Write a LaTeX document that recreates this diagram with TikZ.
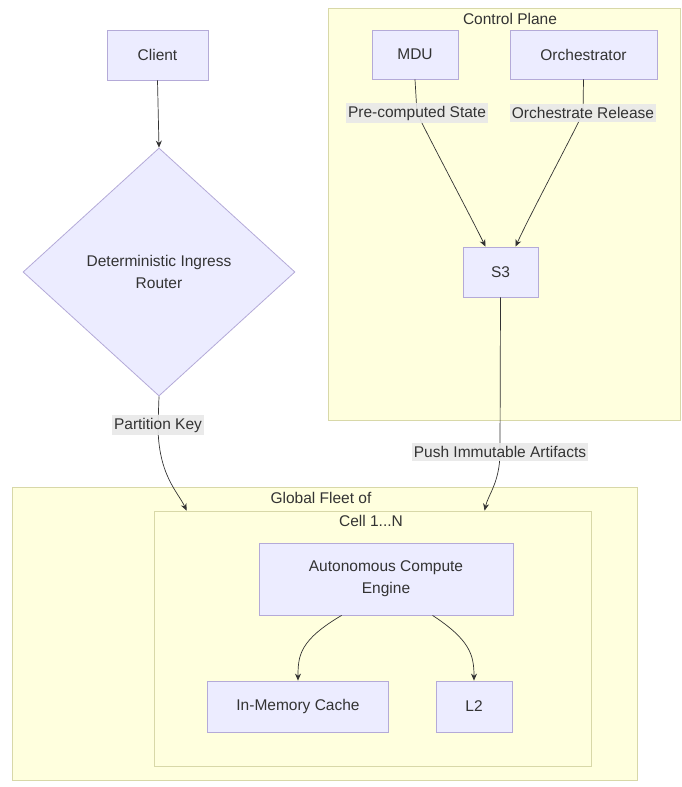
\documentclass[tikz,border=0pt]{standalone}
\usepackage{fontspec}
\setmainfont{Liberation Sans}
\usetikzlibrary{shapes.geometric,arrows.meta,calc}
\definecolor{nodefill}{HTML}{ECECFF}
\definecolor{nodeline}{HTML}{B4AAD8}
\definecolor{clfill}{HTML}{FFFFDE}
\definecolor{clline}{HTML}{D8D8A8}
\definecolor{edgec}{HTML}{333333}
\definecolor{txt}{HTML}{333333}
\definecolor{labbg}{HTML}{E8E8E8}
\tikzset{
  box/.style={draw=nodeline, fill=nodefill, line width=0.8pt, text=txt, inner sep=0pt, align=center, font=\fontsize{15.5}{22}\selectfont},
  cluster/.style={draw=clline, fill=clfill, line width=0.8pt, inner sep=0pt},
  ctitle/.style={text=txt, font=\fontsize{15.5}{18}\selectfont},
  elabel/.style={fill=labbg, fill opacity=0.9, text opacity=1, text=txt, inner xsep=2pt, inner ysep=3pt, font=\fontsize{15.5}{18}\selectfont},
  conn/.style={draw=edgec, line width=0.7pt, -{Stealth[length=7pt,width=6pt]}},
  plain/.style={draw=edgec, line width=0.7pt}
}
\begin{document}
\begin{tikzpicture}[x=1pt,y=-1pt]
\useasboundingbox (0,0) rectangle (681,787);
% clusters
\node[cluster, minimum width=352, minimum height=412] (cp) at (504,214) {};
\node[ctitle] (cpt) at (510,19) {Control Plane};
\node[cluster, minimum width=625, minimum height=293] (gf) at (324.5,633.5) {};
\node[ctitle] (gft) at (321,498) {Global Fleet of};
\node[cluster, minimum width=437, minimum height=255] (cell) at (372.5,638.5) {};
\node[ctitle] (cellt) at (371,521) {Cell 1...N};
% nodes
\node[box, minimum width=101, minimum height=50] (client) at (157.5,55) {Client};
\node[box, minimum width=86, minimum height=49] (mdu) at (415,54.5) {MDU};
\node[box, minimum width=147, minimum height=49] (orch) at (583.5,54.5) {Orchestrator};
\node[box, minimum width=75, minimum height=50] (s3) at (500.5,272) {S3};
\node[box, diamond, minimum width=272, minimum height=248] (dir) at (159,272) {Deterministic Ingress\\Router};
\node[box, minimum width=254, minimum height=72] (ace) at (386,579) {Autonomous Compute\\Engine};
\node[box, minimum width=181, minimum height=51] (imc) at (298,706.5) {In-Memory Cache};
\node[box, minimum width=76, minimum height=51] (l2) at (474,706.5) {L2};
% edge label coordinates
\coordinate (l1) at (417,113);
\coordinate (l2c) at (583,113);
\coordinate (l3) at (158,425);
\coordinate (l4) at (500,452);
% edges
\draw[conn] (mdu.south) -- (l1) .. controls (430,140) and (470,215) .. ($(s3.north)+(-15,0)$);
\draw[conn] (client.south) -- (dir.north);
\draw[conn] (orch.south) -- (l2c) .. controls (570,140) and (530,215) .. ($(s3.north)+(15,0)$);
\draw[conn] (dir.south) -- (l3) .. controls (158,475) and (178,492) .. ($(cell.north west)+(33,0)$);
\draw[conn] (s3.south) -- (l4) .. controls (500,482) and (488,495) .. ($(cell.north west)+(331,0)$);
\draw[conn] ($(ace.south west)+(83,0)$) .. controls (300,640) and (298,655) .. (imc.north);
\draw[conn] ($(ace.south west)+(174,0)$) .. controls (470,640) and (474,655) .. (l2.north);
% edge labels
\node[elabel] (lab1) at (l1) {Pre-computed State};
\node[elabel] (lab2) at (l2c) {Orchestrate Release};
\node[elabel] (lab3) at (l3) {Partition Key};
\node[elabel] (lab4) at (l4) {Push Immutable Artifacts};
\end{tikzpicture}
\end{document}
